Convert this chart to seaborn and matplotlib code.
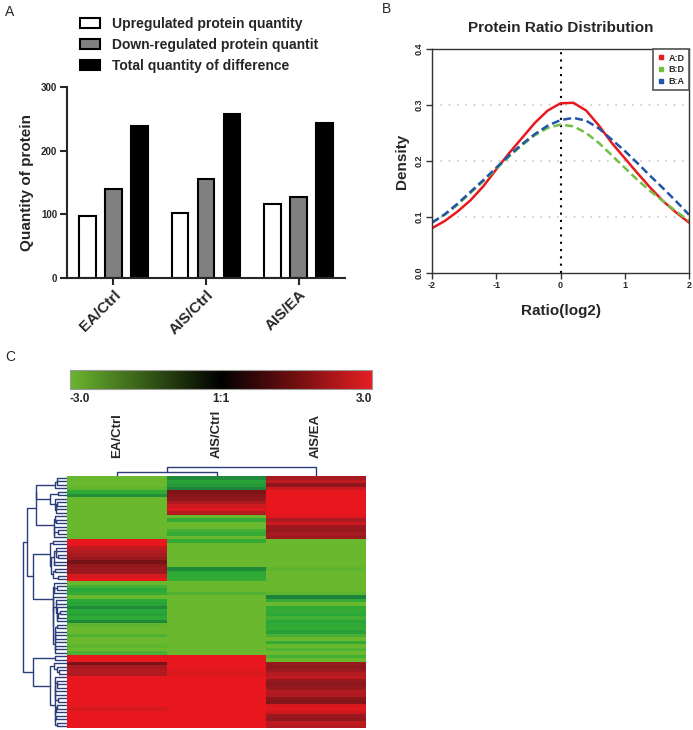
import numpy as np
import pandas as pd
import matplotlib
matplotlib.use("Agg")
import matplotlib.pyplot as plt
import seaborn as sns
from matplotlib.colors import LinearSegmentedColormap, Normalize
from matplotlib.cm import ScalarMappable
from matplotlib.patches import Patch
from matplotlib.lines import Line2D

# ---- data -------------------------------------------------------------
comparisons = ["EA/Ctrl", "AIS/Ctrl", "AIS/EA"]
series_names = ["Upregulated protein quantity",
                "Down-regulated protein quantit",
                "Total quantity of difference"]
up_counts = [98, 102, 116]
down_counts = [140, 156, 128]
total_counts = [238, 258, 244]

ratio_x = [-2.0, -1.8, -1.6, -1.4, -1.2, -1.0, -0.8, -0.6, -0.4, -0.2, 0.0,
           0.2, 0.4, 0.6, 0.8, 1.0, 1.2, 1.4, 1.6, 1.8, 2.0]
dens_ad = [0.080, 0.093, 0.110, 0.130, 0.155, 0.185, 0.214, 0.241, 0.268, 0.290, 0.303,
           0.304, 0.290, 0.263, 0.232, 0.205, 0.178, 0.152, 0.128, 0.108, 0.090]
dens_bd = [0.090, 0.104, 0.122, 0.143, 0.164, 0.186, 0.208, 0.228, 0.246, 0.259, 0.265,
           0.262, 0.250, 0.232, 0.210, 0.188, 0.166, 0.146, 0.128, 0.110, 0.093]
dens_ba = [0.090, 0.105, 0.124, 0.145, 0.166, 0.188, 0.210, 0.230, 0.248, 0.263, 0.273,
           0.277, 0.272, 0.258, 0.238, 0.218, 0.196, 0.173, 0.151, 0.128, 0.104]
pair_names = ["A:D", "B:D", "B:A"]

ea_ctrl = [-3.2, -3.5, -3.3, -2.9, -2.55, -2.2, -3.4, -3.6, -3.3, -3.8, -3.5, -3.2, -3.7, -3.4, -3.1, -3.6, -3.3, -2.95,
           3.6, 3.3, 2.6, 2.5, 2.3, 2.1, 1.65, 2.05, 2.15, 2.2, 2.8, 3.1,
           -3.3, -2.7, -2.5, -2.6, -3.0, -2.5, -2.45, -2.1, -2.5, -2.4, -2.55, -2.05, -2.9, -3.2, -3.5, -2.8, -3.3, -3.6, -2.9, -3.4, -2.75,
           3.4, 3.1, 1.7, 2.3, 2.5, 2.4, 3.5, 3.8, 3.3, 3.6, 3.2, 3.9, 3.4, 3.7, 3.1, 2.8, 3.5, 3.3, 3.8, 3.2, 3.6]
ais_ctrl = [-2.1, -2.4, -2.3, -2.0, 1.8, 1.9, 2.0, 2.4, 2.7, 2.9, 2.5, -3.3, -2.6, -3.0, -3.4, -2.7, -2.6, -3.2,
            -2.6, -3.4, -3.6, -3.2, -3.5, -3.3, -3.7, -3.1, -2.1, -2.5, -2.55, -2.6,
            -3.4, -3.2, -3.6, -2.8, -3.3, -3.5, -3.1, -3.7, -3.4, -3.2, -3.6, -3.3, -3.5, -3.1, -3.8, -3.4, -3.2, -3.6, -3.3, -3.5, -3.2,
            3.3, 3.6, 3.4, 3.2, 2.9, 2.85, 3.5, 3.7, 3.3, 3.6, 3.4, 3.8, 3.2, 3.5, 3.6, 3.3, 3.7, 3.4, 3.2, 3.5, 3.8]
ais_ea = [2.3, 2.6, 2.0, 2.7, 3.4, 3.6, 3.3, 3.7, 3.5, 3.8, 3.2, 2.9, 2.4, 2.7, 2.2, 2.1, 2.3, 2.15,
          -3.3, -3.5, -3.2, -3.6, -3.4, -3.1, -3.7, -3.3, -2.9, -3.5, -3.2, -3.4,
          -3.1, -3.4, -3.2, -2.9, -2.0, -2.6, -3.0, -2.55, -2.6, -2.5, -2.7, -2.45, -2.55, -2.6, -2.4, -2.75, -3.1, -2.6, -3.3, -2.8, -3.2,
          -2.7, -3.3, 2.1, 2.0, 2.2, 2.5, 2.6, 2.05, 1.95, 2.1, 2.5, 2.4, 1.9, 1.85, 2.8, 2.9, 2.7, 2.15, 2.05, 2.6, 2.5]
# column tree (scipy-like: left, right, height); node 3 = first merge
col_linkage = [[0, 1, 0.4], [3, 2, 0.9]]

# ---- style -------------------------------------------------------------
sns.set_style("ticks")
plt.rcParams["font.family"] = ["Liberation Sans", "DejaVu Sans"]
W, H = 693, 730
fig = plt.figure(figsize=(W / 100, H / 100), dpi=100)


def px_axes(x0, y0, x1, y1):
    return fig.add_axes([x0 / W, 1 - y1 / H, (x1 - x0) / W, (y1 - y0) / H])


# ---- A: bar chart ------------------------------------------------------
bar_df = pd.DataFrame({
    "comparison": comparisons * 3,
    "type": np.repeat(series_names, 3),
    "count": up_counts + down_counts + total_counts,
})
bar_colors = ["white", "#808080", "black"]
axA = px_axes(67, 87, 345, 278)
sns.barplot(data=bar_df, x="comparison", y="count", hue="type", hue_order=series_names,
            palette=bar_colors, saturation=1, edgecolor="black", linewidth=1.5,
            width=0.84, gap=0.35, errorbar=None, legend=False, ax=axA)
axA.set_xlim(-0.5, 2.5)
axA.set_ylim(0, 300)
axA.set_yticks([0, 100, 200, 300])
sns.despine(ax=axA)
for s in ["left", "bottom"]:
    axA.spines[s].set_linewidth(1.5)
axA.tick_params(axis="both", width=1.5, length=5, pad=2)
axA.set_yticklabels(["0", "100", "200", "300"], fontsize=7, fontweight="bold")
axA.set_xticks(range(3))
axA.set_xticklabels(comparisons, rotation=45, ha="right", rotation_mode="anchor",
                    fontsize=11, fontweight="bold")
axA.set_xlabel("")
axA.set_ylabel("Quantity of protein", fontsize=11, fontweight="bold", labelpad=5)
handles = [Patch(facecolor=c, edgecolor="black", linewidth=1.5) for c in bar_colors]
fig.legend(handles, series_names, loc="upper left", bbox_to_anchor=(73 / W, 1 - 10 / H),
           frameon=False, borderpad=0, handlelength=1.45, handleheight=0.7,
           handletextpad=0.85, labelspacing=0.5, prop={"size": 10, "weight": "bold"})

# ---- B: density curves ------------------------------------------------
dens_df = pd.DataFrame({
    "ratio": ratio_x * 3,
    "density": dens_ad + dens_bd + dens_ba,
    "pair": np.repeat(pair_names, len(ratio_x)),
})
pair_colors = {"A:D": "#e8191f", "B:D": "#72bf44", "B:A": "#1f56a8"}
axB = px_axes(432, 49, 689, 273)
for yv in [0.1, 0.2, 0.3, 0.4]:
    axB.axhline(yv, color="#c8c8c8", lw=1.2, ls=(0, (1, 4)), zorder=0)
axB.axvline(0, color="black", lw=1.5, ls=(0, (1, 2.5)), zorder=1)
sns.lineplot(data=dens_df, x="ratio", y="density", hue="pair", style="pair",
             palette=pair_colors, dashes={"A:D": "", "B:D": (3.2, 1.6), "B:A": (3.2, 1.6)},
             linewidth=1.8, legend=False, ax=axB)
axB.set_xlim(-2, 2)
axB.set_ylim(0, 0.4)
axB.set_xticks([-2, -1, 0, 1, 2])
axB.set_xticklabels(["-2", "-1", "0", "1", "2"], fontsize=6.5, fontweight="bold")
axB.set_yticks([0, 0.1, 0.2, 0.3, 0.4])
axB.set_yticklabels(["0.0", "0.1", "0.2", "0.3", "0.4"], fontsize=6.5, fontweight="bold",
                    rotation=90, va="center")
axB.tick_params(axis="both", length=4, width=1, pad=2, color="#333333")
for s in axB.spines.values():
    s.set_color("#333333")
    s.set_linewidth(1)
axB.set_title("Protein Ratio Distribution", fontsize=11, fontweight="bold", pad=12)
axB.set_xlabel("Ratio(log2)", fontsize=11, fontweight="bold", labelpad=10)
axB.set_ylabel("Density", fontsize=11, fontweight="bold", labelpad=4)
leg_handles = [Line2D([], [], marker="s", ls="none", markersize=3, color=pair_colors[p])
               for p in pair_names]
legB = axB.legend(leg_handles, pair_names, loc="upper right", borderaxespad=0,
                  fancybox=False, edgecolor="#555555", framealpha=1, handlelength=0.8,
                  handletextpad=0.4, labelspacing=0.3, borderpad=0.5,
                  prop={"size": 6.5, "weight": "bold"})
legB.get_frame().set_linewidth(1.2)

# ---- C: heatmap with dendrograms --------------------------------------
hm_df = pd.DataFrame({"EA/Ctrl": ea_ctrl, "AIS/Ctrl": ais_ctrl, "AIS/EA": ais_ea})
hm_cmap = LinearSegmentedColormap.from_list("gr", [
    (0.0, "#6ab82e"), (0.04, "#48b034"), (0.083, "#2aa838"), (0.167, "#1e823a"),
    (0.25, "#165f2c"), (0.5, "#000000"), (0.75, "#6a1014"), (0.833, "#8e181d"),
    (0.917, "#b41b21"), (1.0, "#e8171d")])
bar_cmap = LinearSegmentedColormap.from_list("bar", ["#6ab52f", "#000000", "#e41e22"])

axH = px_axes(67, 476, 366, 728)
sns.heatmap(hm_df, cmap=hm_cmap, vmin=-3, vmax=3, cbar=False,
            xticklabels=False, yticklabels=False, ax=axH)
for i, name in enumerate(hm_df.columns):
    axH.text(i + 0.5, 1.072, name, transform=axH.get_xaxis_transform(), rotation=90,
             ha="center", va="bottom", fontsize=9.5, fontweight="bold")


def adjacent_linkage(mat):
    # average-linkage clustering that only merges neighbouring clusters (keeps order)
    dist = np.sqrt(((mat[:, None, :] - mat[None, :, :]) ** 2).sum(-1))
    clusters = [([i], i + 0.5, 0.0) for i in range(len(mat))]
    links = []
    while len(clusters) > 1:
        scores = [dist[np.ix_(a[0], b[0])].mean() for a, b in zip(clusters[:-1], clusters[1:])]
        k = int(np.argmin(scores))
        a, b = clusters[k], clusters[k + 1]
        h = max(scores[k], a[2], b[2])
        links.append((a[1], a[2], b[1], b[2], h))
        clusters[k:k + 2] = [(a[0] + b[0], (a[1] + b[1]) / 2, h)]
    return links


dendro_color = "#2c3d7c"
row_links = adjacent_linkage(hm_df.to_numpy())
axD = px_axes(21, 476, 67, 728)
for pa, ha, pb, hb, h in row_links:
    axD.plot(np.sqrt([ha, h, h, hb]), [pa, pa, pb, pb], color=dendro_color, lw=1.0)
axD.set_ylim(len(hm_df), 0)
axD.set_xlim(np.sqrt(row_links[-1][4]) * 1.05, 0)
axD.axis("off")

# column tree from the linkage table
nodes = {i: (i + 0.5, 0.0) for i in range(3)}
axT = px_axes(67, 465, 366, 476)
for j, (l, r, h) in enumerate(col_linkage):
    (xl, hl), (xr, hr) = nodes[l], nodes[r]
    axT.plot([xl, xl, xr, xr], [hl, h, h, hr], color=dendro_color, lw=1.0)
    nodes[3 + j] = ((xl + xr) / 2, h)
axT.set_xlim(0, 3)
axT.set_ylim(0, 1.1)
axT.axis("off")

cax = px_axes(70, 370, 372, 389)
cb = fig.colorbar(ScalarMappable(norm=Normalize(-3, 3), cmap=bar_cmap), cax=cax,
                  orientation="horizontal")
cb.set_ticks([-3, 0, 3])
cb.set_ticklabels(["-3.0", "1:1", "3.0"])
cb.outline.set_edgecolor("#999999")
cb.outline.set_linewidth(0.8)
cax.tick_params(length=0, pad=3)
labs = cax.get_xticklabels()
for t, ha in zip(labs, ["left", "center", "right"]):
    t.set_ha(ha)
    t.set_fontsize(8.5)
    t.set_fontweight("bold")

# panel letters
fig.text(5 / W, 1 - 12 / H, "A", fontsize=10, va="center")
fig.text(382 / W, 1 - 9 / H, "B", fontsize=10, va="center")
fig.text(5 / W, 1 - 357 / H, "C", fontsize=10, va="center")

fig.savefig("out.png", dpi=100)
